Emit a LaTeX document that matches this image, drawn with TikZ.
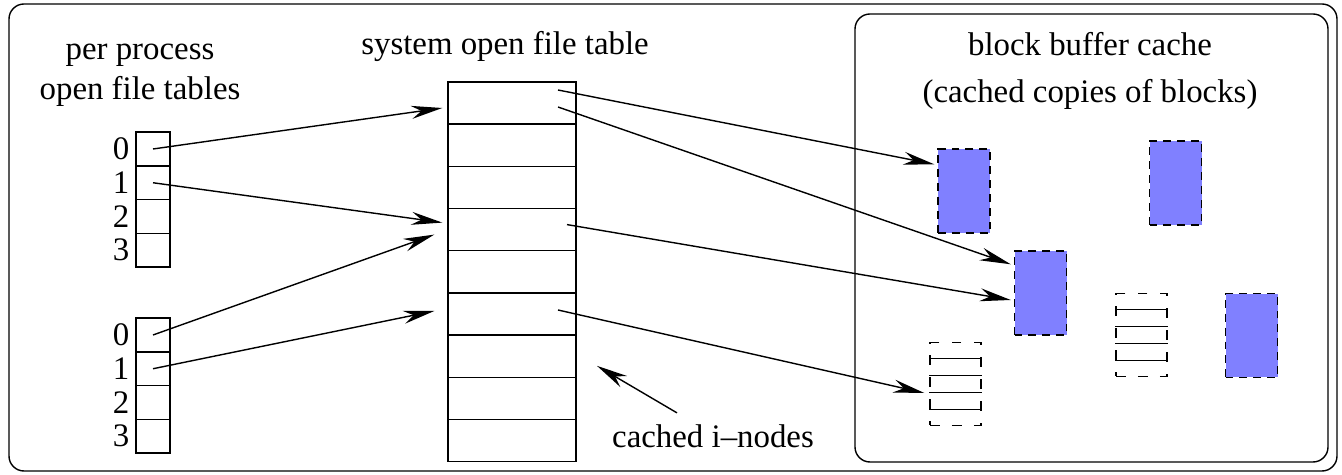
\documentclass[tikz,border=0pt]{standalone}
\usepackage{fontspec}
\setmainfont{Liberation Serif}
\usetikzlibrary{calc,arrows.meta}

\definecolor{blockblue}{RGB}{128,128,255}

\begin{document}
\begin{tikzpicture}[x=0.02cm, y=-0.02cm, line width=0.8pt, font=\fontsize{18.7}{23}\selectfont,
  ptr/.style={-{Stealth[length=0.62cm,width=0.26cm,inset=0.2cm]}},
  fdcell/.style={draw, minimum width=0.68cm, minimum height=0.675cm, inner sep=0pt},
  ftcell/.style={draw, minimum width=2.56cm, minimum height=0.844cm, inner sep=0pt},
  block/.style={draw, fill=blockblue, dash pattern=on 4.5pt off 3.4pt, minimum width=1.04cm, minimum height=1.68cm, inner sep=0pt},
  inode/.style={draw, dash pattern=on 5.5pt off 7pt, minimum width=1.02cm, minimum height=1.66cm, inner sep=0pt},
  idx/.style={anchor=east, inner sep=0pt}]
\useasboundingbox (0,0) rectangle (1342,475);
\draw[rounded corners=0.3cm] (9,4) rectangle (1337,471);
\draw[rounded corners=0.3cm] (855,14) rectangle (1328,462);

\node[align=center] (pptitle) at (140,75) {per process\\open file tables};
\node (sttitle) at (505,46) {system open file table};
\node[align=center, font=\fontsize{18.7}{27}\selectfont] (bctitle) at (1090,71) {block buffer cache\\(cached copies of blocks)};

\foreach \i in {0,...,3} {
  \node[fdcell] (pa\i) at (153,{149+33.75*\i}) {};
  \node[idx] at (130,{149+33.75*\i}) {\i};
  \node[fdcell] (pb\i) at (153,{335+33.75*\i}) {};
  \node[idx] at (130,{335+33.75*\i}) {\i};
}
\foreach \i in {0,...,8}
  \node[ftcell] (s\i) at (512,{103+42.2*\i}) {};

\node[block] (b1) at (964,191) {};
\node[block] (b2) at (1175.5,183) {};
\node[block] (b3) at (1040.5,293) {};
\node[block] (b4) at (1251.5,335.5) {};

\node[inode] (n1) at (955.5,384) {};
\node[inode] (n2) at (1141.5,335) {};
\foreach \n in {n1,n2}
  \foreach \f in {0.2,0.4,0.6,0.8}
    \draw ($(\n.north west)!\f!(\n.south west)$) -- ($(\n.north east)!\f!(\n.south east)$);

\node (ci) at (713,436) {cached i–nodes};

\draw[ptr] (pa0.center) -- ($(s0.west)+(-5,5)$);
\draw[ptr] (pa1.center) -- ($(s3.west)+(-5,-7)$);
\draw[ptr] (pb0.center) -- ($(s3.west)+(-13,5)$);
\draw[ptr] (pb1.center) -- ($(s5.west)+(-13,-3)$);
\draw[ptr] ($(s0.center)+(46,-13)$) -- ($(b1.north west)+(-3,16)$);
\draw[ptr] ($(s0.center)+(46,4)$) -- ($(b3.north west)+(-3,14)$);
\draw[ptr] ($(s3.center)+(55,-5)$) -- ($(b3.west)+(-3,7)$);
\draw[ptr] ($(s5.center)+(46,-4)$) -- ($(n1.west)+(-5,9)$);
\draw[ptr] ($(ci.north)+(-36,-5)$) -- ++(-80,-47);
\end{tikzpicture}
\end{document}
